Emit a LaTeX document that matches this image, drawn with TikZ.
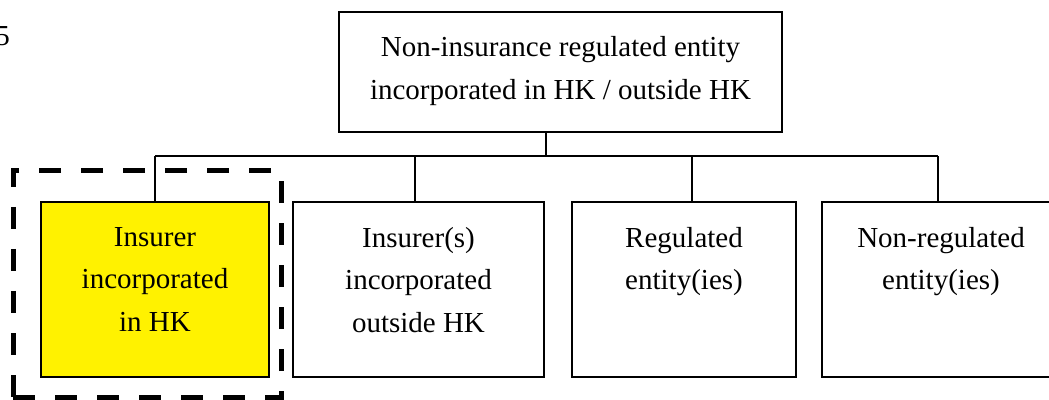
\documentclass[tikz,border=0pt]{standalone}
\usepackage{fontspec}
\setmainfont{Liberation Serif}
\usetikzlibrary{calc}
\begin{document}
\begin{tikzpicture}[x=1pt,y=1pt,
  boxst/.style={draw=black, line width=1.3pt, minimum width=#1, minimum height=175pt, inner sep=0pt},
  lbl/.style={font=\fontsize{29}{42.5}\selectfont, align=center, inner sep=0pt},
  conn/.style={draw=black, line width=1.3pt},
  grp/.style={draw=black, line width=5pt, dash pattern=on 22pt off 20pt}]
\useasboundingbox (0,0) rectangle (1049,399);
\clip (0,0) rectangle (1049,399);
% page number fragment
\node[lbl, anchor=base east] (pg) at (10,353) {5};
% top box
\node[draw=black, line width=1.3pt, minimum width=443pt, minimum height=120pt, inner sep=0pt] (top) at (560.5,327) {};
\node[lbl, anchor=north] (ttop) at ([yshift=-25pt]top.north) {Non-insurance regulated entity\\incorporated in HK / outside HK};
% child boxes
\node[boxst=228pt, fill=yellow] (b1) at (155,109.5) {};
\node[boxst=251pt] (b2) at (418.5,109.5) {};
\node[boxst=224pt] (b3) at (684,109.5) {};
\node[boxst=238pt] (b4) at (941,109.5) {};
\node[lbl, anchor=north] (t1) at ([yshift=-25.5pt]b1.north) {Insurer\\incorporated\\in HK};
\node[lbl, anchor=north] (t2) at ([yshift=-25.5pt]b2.north) {Insurer(s)\\incorporated\\outside HK};
\node[lbl, anchor=north] (t3) at ([yshift=-25.5pt]b3.north) {Regulated\\entity(ies)};
\node[lbl, anchor=north] (t4) at ([yshift=-25.5pt]b4.north) {Non-regulated\\entity(ies)};
% connectors
\coordinate (bar) at (546,243);
\draw[conn] (bar |- top.south) -- (bar);
\draw[conn] (b1.north |- bar) -- ($(b4.north |- bar)+(-3,0)$);
\draw[conn] (b1.north) -- (b1.north |- bar);
\draw[conn] ($(b2.north)+(-3.5,0)$) -- ($(b2.north |- bar)+(-3.5,0)$);
\draw[conn] ($(b3.north)+(8,0)$) -- ($(b3.north |- bar)+(8,0)$);
\draw[conn] ($(b4.north)+(-3,0)$) -- ($(b4.north |- bar)+(-3,0)$);
% dashed group frame
\node[grp, minimum width=268pt, minimum height=226pt, inner sep=0pt] (frame) at (147,115) {};
\end{tikzpicture}
\end{document}
